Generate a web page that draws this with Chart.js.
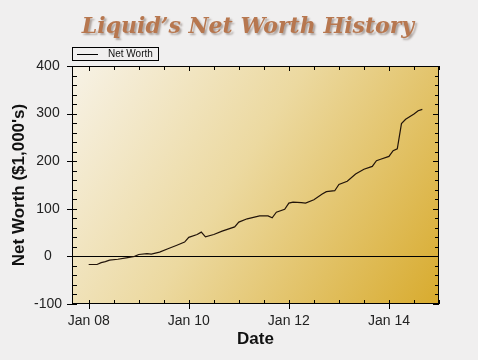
<!DOCTYPE html>
<html>
<head>
<meta charset="utf-8">
<script src="https://cdn.jsdelivr.net/npm/chart.js@4.4.1/dist/chart.umd.min.js"></script>
<style>
  body { margin: 0; background: #f0efef; }
  canvas { display: block; }
</style>
</head>
<body>
<canvas id="worthChart" width="478" height="360"></canvas>
<script>
var dates = ['2008-01', '2008-03', '2008-04', '2008-05', '2008-06', '2008-08', '2008-10', '2008-12',
  '2009-01', '2009-03', '2009-04', '2009-06', '2009-08', '2009-10', '2009-12', '2010-01',
  '2010-03', '2010-04', '2010-05', '2010-07', '2010-09', '2010-12', '2011-01', '2011-03',
  '2011-06', '2011-08', '2011-09', '2011-10', '2011-12', '2012-01', '2012-02', '2012-04',
  '2012-05', '2012-07', '2012-09', '2012-10', '2012-12', '2013-01', '2013-03', '2013-05',
  '2013-07', '2013-09', '2013-10', '2013-11', '2014-01', '2014-02', '2014-03', '2014-04',
  '2014-05', '2014-07', '2014-08', '2014-09'];
var netWorth = [-17, -17, -13, -11, -8, -6, -3, 0,
  4, 6, 5, 9, 16, 23, 30, 40,
  46, 51, 41, 46, 53, 62, 72, 79,
  85, 85, 81, 93, 99, 112, 114, 113,
  112, 119, 131, 136, 138, 151, 158, 173,
  183, 189, 201, 204, 210, 222, 226, 279,
  288, 299, 306, 309];
var xTickMonths = [0, 24, 48, 72];
var xTickLabels = ['Jan 08', 'Jan 10', 'Jan 12', 'Jan 14'];
var yTicks = [-100, 0, 100, 200, 300, 400];

function monthIndex(d) {
  var p = d.split('-');
  return (parseInt(p[0], 10) - 2008) * 12 + parseInt(p[1], 10) - 1;
}

var points = dates.map(function(d, i) {
  return { x: monthIndex(d), y: netWorth[i] };
});

var framePlugin = {
  id: 'frame',
  beforeDraw: function(chart) {
    var ctx = chart.ctx;
    var a = chart.chartArea;
    var g = ctx.createLinearGradient(a.left, a.top, a.right, a.bottom);
    g.addColorStop(0, '#f7f2e6');
    g.addColorStop(0.45, '#ecd9a0');
    g.addColorStop(1, '#d8ab2e');
    ctx.save();
    ctx.fillStyle = g;
    ctx.fillRect(a.left, a.top, a.right - a.left, a.bottom - a.top);

    // title
    ctx.font = 'bold italic 22px "DejaVu Serif"';
    ctx.textAlign = 'center';
    ctx.textBaseline = 'alphabetic';
    ctx.shadowColor = 'rgba(90,70,60,0.45)';
    ctx.shadowOffsetX = 2;
    ctx.shadowOffsetY = 2;
    ctx.shadowBlur = 2;
    ctx.fillStyle = '#b7774f';
    ctx.fillText('Liquid\u2019s Net Worth History', 248, 33);
    ctx.restore();

    // legend
    ctx.save();
    ctx.strokeStyle = '#000';
    ctx.lineWidth = 1;
    ctx.strokeRect(72.5, 47.5, 86, 13);
    ctx.beginPath();
    ctx.moveTo(77, 54.5);
    ctx.lineTo(98, 54.5);
    ctx.stroke();
    ctx.fillStyle = '#111';
    ctx.font = '10px "Liberation Sans"';
    ctx.textBaseline = 'middle';
    ctx.fillText('Net Worth', 108, 54.5);
    ctx.restore();
  },
  beforeDatasetsDraw: function(chart) {
    var ctx = chart.ctx;
    var a = chart.chartArea;
    var y0 = Math.round(chart.scales.y.getPixelForValue(0)) + 0.5;
    ctx.save();
    ctx.strokeStyle = '#000';
    ctx.lineWidth = 1;
    ctx.beginPath();
    ctx.moveTo(a.left, y0);
    ctx.lineTo(a.right, y0);
    ctx.stroke();
    ctx.restore();
  },
  afterDatasetsDraw: function(chart) {
    var ctx = chart.ctx;
    var a = chart.chartArea;
    var xs = chart.scales.x, ys = chart.scales.y;
    ctx.save();
    ctx.strokeStyle = '#000';
    ctx.lineWidth = 1;
    ctx.strokeRect(a.left + 0.5, a.top + 0.5, a.right - a.left - 1, a.bottom - a.top - 1);
    ctx.beginPath();
    for (var m = 0; m <= 84; m += 6) {
      var px = Math.round(xs.getPixelForValue(m)) + 0.5;
      var major = m % 24 === 0;
      ctx.moveTo(px, a.bottom - 4);
      ctx.lineTo(px, a.bottom + (major ? 5 : 0));
      ctx.moveTo(px, a.top);
      ctx.lineTo(px, a.top + (major ? 5 : 4));
    }
    for (var v = -100; v <= 400; v += 20) {
      var py = Math.round(ys.getPixelForValue(v)) + 0.5;
      var maj = v % 100 === 0;
      ctx.moveTo(a.left - (maj ? 5 : 0), py);
      ctx.lineTo(a.left + 5, py);
      ctx.moveTo(a.right, py);
      ctx.lineTo(a.right - (maj ? 6 : 4), py);
    }
    ctx.stroke();
    ctx.restore();
  }
};

var ctx = document.getElementById('worthChart').getContext('2d');
var chart = new Chart(ctx, {
  type: 'line',
  data: {
    datasets: [{
      label: 'Net Worth',
      data: points,
      borderColor: '#22140a',
      borderWidth: 1.2,
      pointRadius: 0,
      tension: 0,
      fill: false
    }]
  },
  options: {
    responsive: false,
    animation: false,
    layout: { padding: { top: 66, right: 39, left: 0, bottom: 0 } },
    plugins: {
      legend: { display: false },
      tooltip: { enabled: false }
    },
    scales: {
      x: {
        type: 'linear',
        min: -4,
        max: 84,
        afterFit: function(scale) { scale.height = 56; },
        afterBuildTicks: function(scale) {
          scale.ticks = xTickMonths.map(function(v) { return { value: v }; });
        },
        grid: { display: false, drawTicks: false },
        border: { display: false },
        ticks: {
          padding: 9,
          color: '#222',
          font: { family: 'Liberation Sans', size: 14 },
          maxRotation: 0,
          callback: function(value) {
            var i = xTickMonths.indexOf(value);
            return i >= 0 ? xTickLabels[i] : '';
          }
        },
        title: {
          display: true,
          text: 'Date',
          color: '#111',
          font: { family: 'Liberation Sans', size: 17, weight: 'bold' },
          padding: { bottom: 10 }
        }
      },
      y: {
        min: -100,
        max: 400,
        afterFit: function(scale) { scale.width = 72; },
        afterBuildTicks: function(scale) {
          scale.ticks = yTicks.map(function(v) { return { value: v }; });
        },
        grid: { display: false, drawTicks: false },
        border: { display: false },
        ticks: {
          padding: 10,
          crossAlign: 'center',
          color: '#222',
          font: { family: 'Liberation Sans', size: 14 }
        },
        title: {
          display: true,
          text: "Net Worth ($1,000's)",
          color: '#111',
          font: { family: 'Liberation Sans', size: 17, weight: 'bold' },
          padding: { top: 9 }
        }
      }
    }
  },
  plugins: [framePlugin]
});
</script>
</body>
</html>
